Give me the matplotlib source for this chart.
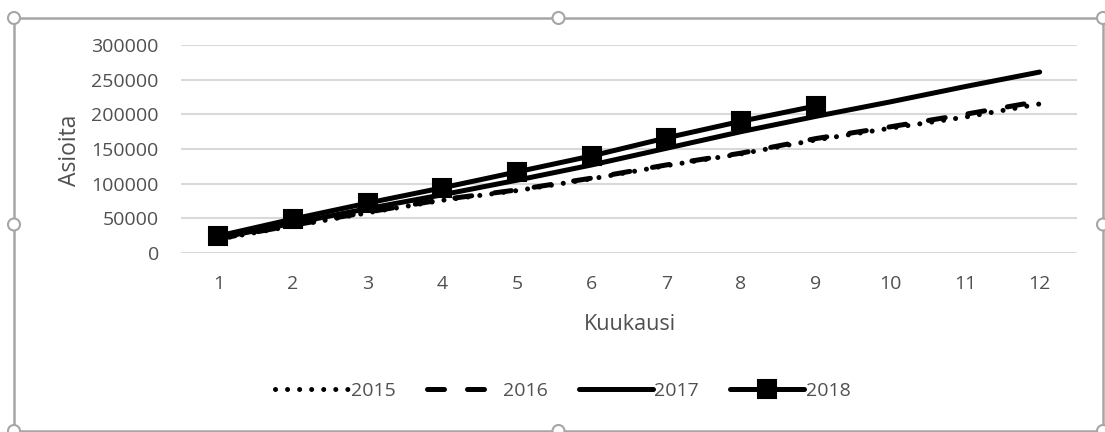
import matplotlib
matplotlib.use("Agg")
import matplotlib.pyplot as plt
from matplotlib.patches import Rectangle, Circle

""" Data read from the chart """
months = [1, 2, 3, 4, 5, 6, 7, 8, 9, 10, 11, 12]
y_ticks = [0, 50000, 100000, 150000, 200000, 250000, 300000]

cases_2015 = [20000, 39000, 58000, 76000, 90000, 107000, 126000, 143000, 163000, 180000, 196000, 215000]
cases_2016 = [20500, 40000, 59000, 77000, 91000, 108000, 127000, 144000, 165000, 182000, 200000, 219000]
cases_2017 = [21500, 43000, 64000, 84000, 105000, 127000, 151000, 175000, 197000, 218000, 240000, 261000]
months_2018 = [1, 2, 3, 4, 5, 6, 7, 8, 9]
cases_2018 = [24500, 49000, 72000, 94000, 117000, 140000, 166000, 190000, 212000]

""" Figure setup """
plt.rcParams['font.family'] = ['Open Sans', 'DejaVu Sans']
text_color = '#505050'
W, H = 1105, 432

fig = plt.figure(figsize=(W / 100, H / 100), dpi=100)
ax = fig.add_axes([181 / W, 1 - 253 / H, (1077 - 181) / W, (253 - 45) / H])

lw = 3.6
ax.plot(months, cases_2015, color='black', lw=lw, linestyle=(0, (0.01, 2.4)),
        dash_capstyle='round', label='2015')
ax.plot(months, cases_2016, color='black', lw=lw, linestyle=(0, (3.4, 4.6)),
        dash_capstyle='round', label='2016')
ax.plot(months, cases_2017, color='black', lw=lw, solid_capstyle='round', label='2017')
ax.plot(months_2018, cases_2018, color='black', lw=lw, solid_capstyle='round',
        marker='s', markersize=12.5, markeredgewidth=1.5, markerfacecolor='black',
        markeredgecolor='black', label='2018')

ax.set_xlim(0.5, 12.5)
ax.set_ylim(0, 300000)
ax.set_xticks(months)
ax.set_yticks(y_ticks)
ax.set_yticklabels([str(v) for v in y_ticks])
ax.grid(True, axis='y', color='#d9d9d9', lw=1.5)
ax.set_axisbelow(True)
for s in ax.spines.values():
    s.set_visible(False)
ax.tick_params(axis='both', length=0, labelsize=14, colors=text_color)
ax.tick_params(axis='y', pad=16)
ax.tick_params(axis='x', pad=16)

fig.text(70 / W, 1 - 150 / H, 'Asioita', rotation=90, ha='center', va='center',
         fontsize=16.5, color=text_color)
fig.text(630 / W, 1 - 325 / H, 'Kuukausi', ha='center', va='center',
         fontsize=15.5, color=text_color)

leg = fig.legend(loc='center', bbox_to_anchor=(563 / W, 1 - 391 / H), ncol=4,
                 frameon=False, fontsize=14, handlelength=3.8, handletextpad=0.1,
                 columnspacing=1.6)
for t in leg.get_texts():
    t.set_color(text_color)

""" Chart frame with selection handles """
frame_color = '#a6a6a6'
x0, y0, x1, y1 = 14 / W, 1 - 431 / H, 1103 / W, 1 - 18 / H
fig.patches.append(Rectangle((x0, y0), x1 - x0, y1 - y0, transform=fig.transFigure,
                             fill=False, edgecolor=frame_color, lw=1.8))
r = 6
for hx, hy in [(x0, y1), ((x0 + x1) / 2, y1), (x1, y1), (x0, (y0 + y1) / 2),
               (x1, (y0 + y1) / 2), (x0, y0), ((x0 + x1) / 2, y0), (x1, y0)]:
    fig.patches.append(Circle((hx * W, hy * H), r, transform=None,
                              facecolor='white', edgecolor=frame_color, lw=1.5))

fig.savefig('out.png', dpi=100)
